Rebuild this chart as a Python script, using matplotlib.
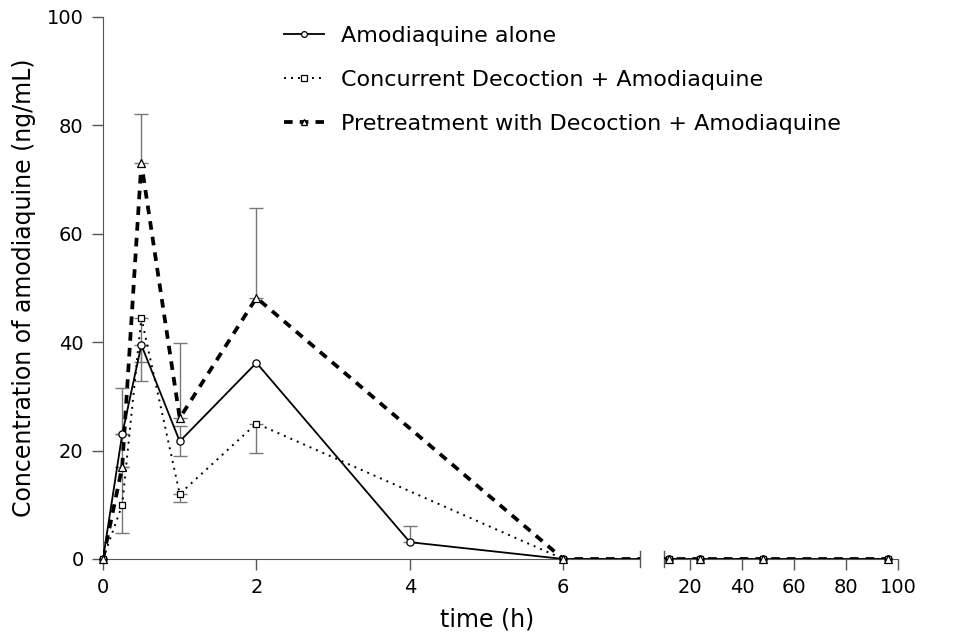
import numpy as np
import matplotlib
matplotlib.use("Agg")
import matplotlib.pyplot as plt
from matplotlib.lines import Line2D

plt.rcParams['font.family'] = ['DejaVu Sans']

# ---- data ----
t_alone = [0, 0.25, 0.5, 1, 2, 4, 6, 12, 24, 48, 96]
alone = [0, 23.0, 39.5, 21.7, 36.2, 3.1, 0, 0, 0, 0, 0]
alone_err_lo = [0, 0, 6.6, 2.7, 0, 0, 0, 0, 0, 0, 0]
alone_err_up = [0, 8.6, 0, 2.8, 0, 3.0, 0, 0, 0, 0, 0]

t_conc = [0, 0.25, 0.5, 1, 2, 6, 12, 24, 48, 96]
conc = [0, 10.0, 44.5, 12.0, 25.0, 0, 0, 0, 0, 0]
conc_err_lo = [0, 5.2, 8.2, 1.5, 5.4, 0, 0, 0, 0, 0]
conc_err_up = [0, 7.0, 0, 0, 0, 0, 0, 0, 0, 0]

t_pre = [0, 0.25, 0.5, 1, 2, 6, 12, 24, 48, 96]
pre = [0, 17.0, 73.0, 26.0, 48.2, 0, 0, 0, 0, 0]
pre_err_lo = [0, 0, 0, 0, 0, 0, 0, 0, 0, 0]
pre_err_up = [0, 6.0, 9.1, 13.8, 16.5, 0, 0, 0, 0, 0]

labels = ["Amodiaquine alone",
          "Concurrent Decoction + Amodiaquine",
          "Pretreatment with Decoction + Amodiaquine"]
y_ticks = [0, 20, 40, 60, 80, 100]
x_ticks_left = [0, 2, 4, 6]
x_ticks_right = [20, 40, 60, 80, 100]

W, H = 969, 639
fig = plt.figure(figsize=(W / 100, H / 100), dpi=100)
axL = fig.add_axes([103 / W, 1 - 559 / H, (640 - 103) / W, (559 - 17) / H])
axR = fig.add_axes([664 / W, 1 - 559 / H, (898 - 664) / W, (559 - 17) / H])

styles = [
    dict(ls='-', lw=1.3, marker='o', ms=5.2, mew=0.9),
    dict(ls=(0, (1.0, 2.6)), lw=1.4, marker='s', ms=4.6, mew=0.9),
    dict(ls=(0, (2.3, 1.9)), lw=2.7, marker='^', ms=5.2, mew=0.9),
]
series = [(t_alone, alone, alone_err_lo, alone_err_up),
          (t_conc, conc, conc_err_lo, conc_err_up),
          (t_pre, pre, pre_err_lo, pre_err_up)]

for ax in (axL, axR):
    for (t, y, lo, up), st in zip(series, styles):
        t = np.array(t); y = np.array(y); lo = np.array(lo); up = np.array(up)
        m = (lo > 0) | (up > 0)
        if m.any():
            ax.errorbar(t[m], y[m], yerr=[lo[m], up[m]], fmt='none', ecolor='#777777',
                        elinewidth=1.0, capsize=5, capthick=1.0, zorder=2)
        ax.plot(t, y, color='black', ls=st['ls'], lw=st['lw'], zorder=3)
    for sp in ('top', 'right'):
        ax.spines[sp].set_visible(False)
    ax.set_ylim(0, 100)
    ax.tick_params(axis='both', direction='out', length=8, width=1.0, color='#555555',
                   labelsize=14, pad=6)

# markers, only inside the visible ranges
for (t, y, lo, up), st in zip(series, styles):
    t = np.array(t); y = np.array(y)
    mL = t <= 7
    mR = (t >= 10) & (t <= 100)
    for ax, m in ((axL, mL), (axR, mR)):
        ax.plot(t[m], y[m], ls='none', marker=st['marker'], ms=st['ms'], mfc='white',
                mec='black', mew=st['mew'], zorder=5, clip_on=False)

axL.set_xlim(0, 7)
axL.set_xticks(x_ticks_left)
axL.set_yticks(y_ticks)
axL.spines['left'].set_color('#555555')
axL.spines['bottom'].set_color('#555555')

axR.set_xlim(10, 100)
axR.set_xticks(x_ticks_right)
axR.spines['left'].set_visible(False)
axR.spines['bottom'].set_color('#555555')
axR.set_yticks([])

# break end marks
axL.plot([1, 1], [-0.015, 0.015], transform=axL.transAxes, color='#555555', lw=1.0, clip_on=False)
axR.plot([0, 0], [-0.015, 0.015], transform=axR.transAxes, color='#555555', lw=1.0, clip_on=False)

axL.set_ylabel("Concentration of amodiaquine (ng/mL)", fontsize=17, labelpad=8)
fig.text(487 / W, 1 - 620 / H, "time (h)", fontsize=17, ha='center', va='center')

handles = [Line2D([], [], color='black', ls=st['ls'], lw=st['lw'], marker=st['marker'],
                  ms=st['ms'] * 0.8, mfc='white', mec='black', mew=st['mew']) for st in styles]
fig.legend(handles, labels, loc='upper left', bbox_to_anchor=(275 / W, 1 - 17 / H),
           frameon=False, fontsize=16, handlelength=1.8, handletextpad=0.75,
           labelspacing=1.08, borderaxespad=0)

fig.savefig("out.png", dpi=100)
